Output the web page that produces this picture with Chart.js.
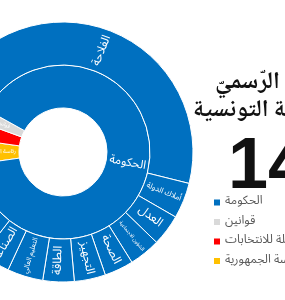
<!DOCTYPE html>
<html>
<head>
<meta charset="utf-8">
<script src="https://cdn.jsdelivr.net/npm/chart.js@4.4.0/dist/chart.umd.min.js"></script>
<style>
  html, body { margin: 0; padding: 0; background: #fff; overflow: hidden; }
  #wrap { position: relative; width: 285px; height: 300px; }
</style>
</head>
<body>
<div id="wrap"><canvas id="sunburst" width="285" height="300"></canvas></div>
<script>
// inner ring, in drawing (clockwise) order
const inner_labels = ['رئاسة الجمهورية', 'الهيئة العليا المستقلة للانتخابات', 'قوانين', 'الحكومة'];
const inner_values = [64, 48, 36, 1292];
const inner_colors = ['#FFC000', '#FF0000', '#D9D9D9', '#0070C0'];

// outer ring: the ministries under الحكومة, first three slots sit over the small slices and stay empty
const outer_labels = ['', '', '', 'الفلاحة', 'أملاك الدولة', 'العدل', 'الشؤون الاجتماعية', 'الصحة', 'التجهيز', 'الطاقة', 'التعليم العالي', 'الصناعة', 'أخرى'];
const outer_values = [64, 48, 36, 660, 64, 56, 56, 52, 56, 56, 64, 52, 176];

// legend (shown order)
const legend_labels = ['الحكومة', 'قوانين', 'الهيئة العليا المستقلة للانتخابات', 'رئاسة الجمهورية'];
const legend_colors = ['#0070C0', '#D9D9D9', '#FF0000', '#FFC000'];

const title_lines = ['الرائد الرّسميّ', 'للجمهوريّة التونسية'];
const big_number = '14';

const arabic_font = '"Noto Sans Arabic", "DejaVu Sans", sans-serif';

const outer_colors = outer_labels.map((l, i) => i < 3 ? 'rgba(0,0,0,0)' : '#0070C0');
const outer_borders = outer_labels.map((l, i) => i < 3 ? 'rgba(0,0,0,0)' : '#ffffff');

// labels written along the radius of each arc, shrunk to fit like the original
const arcLabels = {
  id: 'arcLabels',
  afterDatasetsDraw(chart) {
    const ctx = chart.ctx;
    const all_labels = [outer_labels, inner_labels];
    chart.data.datasets.forEach((ds, i) => {
      const meta = chart.getDatasetMeta(i);
      meta.data.forEach((arc, j) => {
        const text = all_labels[i][j];
        if (!text) return;
        const p = arc.getProps(['x', 'y', 'startAngle', 'endAngle', 'innerRadius', 'outerRadius'], true);
        const mid = (p.startAngle + p.endAngle) / 2;
        const r = (p.innerRadius + p.outerRadius) / 2;
        const thick = p.outerRadius - p.innerRadius - 6;
        const across = r * (p.endAngle - p.startAngle) - 4;
        ctx.save();
        ctx.font = '12px ' + arabic_font;
        const w = ctx.measureText(text).width;
        const size = Math.min(12, 12 * thick / w, across * 0.85);
        if (size < 4) { ctx.restore(); return; }
        let rot = mid;
        while (rot > Math.PI / 2) rot -= Math.PI;
        while (rot <= -Math.PI / 2) rot += Math.PI;
        ctx.translate(p.x + r * Math.cos(mid), p.y + r * Math.sin(mid));
        ctx.rotate(rot);
        ctx.font = size.toFixed(1) + 'px ' + arabic_font;
        ctx.fillStyle = '#ffffff';
        ctx.textAlign = 'center';
        ctx.textBaseline = 'middle';
        ctx.direction = 'rtl';
        ctx.fillText(text, 0, 0);
        ctx.restore();
      });
    });
  }
};

// title, big number and legend on the right, running past the edge like the crop
const sideText = {
  id: 'sideText',
  afterDraw(chart) {
    const ctx = chart.ctx;
    ctx.save();
    ctx.fillStyle = '#111111';
    ctx.direction = 'rtl';
    ctx.textAlign = 'left';
    ctx.textBaseline = 'alphabetic';
    ctx.font = 'bold 24px "Noto Naskh Arabic", "DejaVu Sans", serif';
    ctx.fillText(title_lines[0], 215, 88);
    ctx.fillText(title_lines[1], 193, 116);

    ctx.direction = 'ltr';
    ctx.font = 'bold 72px "Liberation Sans", Arial, sans-serif';
    ctx.fillText(big_number, 228, 188);

    ctx.font = '12px ' + arabic_font;
    ctx.direction = 'rtl';
    ctx.textAlign = 'left';
    ctx.textBaseline = 'middle';
    legend_labels.forEach((lab, k) => {
      const cy = 202.5 + k * 19.5;
      ctx.fillStyle = legend_colors[k];
      ctx.fillRect(214, cy - 3, 6, 6);
      ctx.fillStyle = '#595959';
      ctx.fillText(lab, 225, cy);
    });
    ctx.restore();
  }
};

const sunburst = document.querySelector('#sunburst').getContext('2d');
new Chart(sunburst, {
  type: 'doughnut',
  data: {
    labels: outer_labels,
    datasets: [{
      data: outer_values,
      backgroundColor: outer_colors,
      borderColor: outer_borders,
      borderWidth: 1
    },
    {
      data: inner_values,
      backgroundColor: inner_colors,
      borderColor: '#ffffff',
      borderWidth: 1
    }]
  },
  plugins: [arcLabels, sideText],
  options: {
    responsive: false,
    animation: false,
    events: [],
    rotation: 262,
    radius: 130,
    cutout: '33.85%',
    layout: { padding: { left: 0, right: 159, top: 4, bottom: 0 } },
    plugins: {
      legend: { display: false },
      tooltip: { enabled: false }
    }
  }
});
</script>
</body>
</html>
